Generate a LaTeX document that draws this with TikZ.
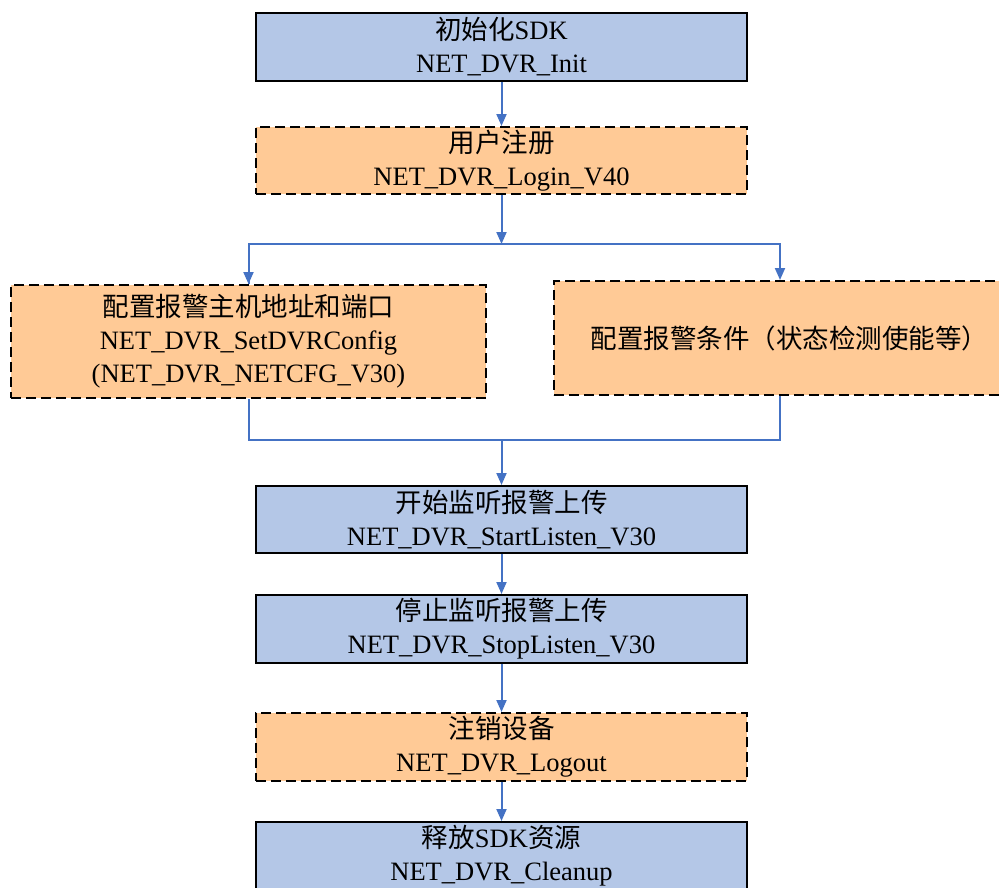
\documentclass[tikz,border=0pt]{standalone}
\usepackage{fontspec}
\setmainfont{Liberation Serif}
\newfontfamily\cjk{Noto Sans CJK SC}
\usetikzlibrary{arrows.meta}
\definecolor{boxblue}{HTML}{B4C7E7}
\definecolor{boxorange}{HTML}{FFCA96}
\definecolor{linkblue}{HTML}{4472C4}
\tikzset{
  stepbox/.style={draw=black, line width=2pt, align=center, inner sep=0pt,
    font=\fontsize{26.5}{33}\selectfont, text=black},
  bluebox/.style={stepbox, fill=boxblue},
  orangebox/.style={stepbox, fill=boxorange, dash pattern=on 10pt off 5pt},
  link/.style={draw=linkblue, line width=2pt},
  arr/.style={link, -{Triangle[length=12pt,width=10pt]}},
}
\begin{document}
\begin{tikzpicture}[x=1pt,y=-1pt]
\useasboundingbox (0,0) rectangle (999,887);
\clip (0,0) rectangle (999,887);
\node[bluebox, minimum width=491pt, minimum height=68pt] (b1) at (501.5,47) {{\cjk 初始化}SDK\\NET\_DVR\_Init};
\node[orangebox, minimum width=491pt, minimum height=67pt] (b2) at (501.5,160.5) {{\cjk 用户注册}\\NET\_DVR\_Login\_V40};
\node[orangebox, minimum width=475pt, minimum height=113pt] (b3) at (248.5,341.5) {{\cjk 配置报警主机地址和端口}\\NET\_DVR\_SetDVRConfig\\(NET\_DVR\_NETCFG\_V30)};
\node[orangebox, minimum width=471pt, minimum height=114pt] (b4) at (789.5,338) {{\cjk 配置报警条件（状态检测使能等）}};
\node[bluebox, minimum width=491pt, minimum height=67pt] (b5) at (501.5,519.5) {{\cjk 开始监听报警上传}\\NET\_DVR\_StartListen\_V30};
\node[bluebox, minimum width=491pt, minimum height=68pt] (b6) at (501.5,629) {{\cjk 停止监听报警上传}\\NET\_DVR\_StopListen\_V30};
\node[orangebox, minimum width=491pt, minimum height=68pt] (b7) at (501.5,747) {{\cjk 注销设备}\\NET\_DVR\_Logout};
\node[bluebox, minimum width=491pt, minimum height=68pt] (b8) at (501.5,856) {{\cjk 释放}SDK{\cjk 资源}\\NET\_DVR\_Cleanup};
\coordinate (split) at (501.5,244);
\coordinate (merge) at (501.5,440);
\coordinate (rx) at (780,0);
\draw[arr] (b1) -- (b2);
\draw[arr] (b2) -- (split);
\draw[link] (split) -| (b3.north);
\draw[arr] (b3.north |- split) -- (b3.north);
\draw[arr] (split) -| (rx |- b4.north);
\draw[link] (b3.south) |- (merge);
\draw[link] (rx |- b4.south) |- (merge);
\draw[arr] (merge) -- (b5);
\draw[arr] (b5) -- (b6);
\draw[arr] (b6) -- (b7);
\draw[arr] (b7) -- (b8);
\end{tikzpicture}
\end{document}
